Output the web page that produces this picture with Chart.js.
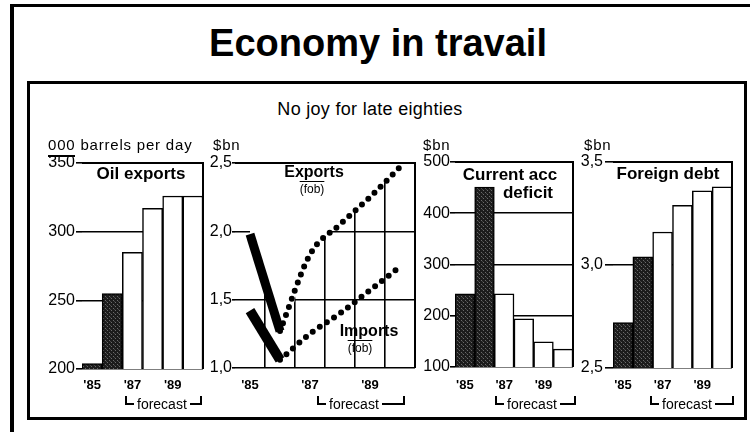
<!DOCTYPE html>
<html>
<head>
<meta charset="utf-8">
<script src="https://cdn.jsdelivr.net/npm/chart.js@4.4.1/dist/chart.umd.min.js"></script>
<style>
  html, body { margin: 0; padding: 0; background: #fff; }
  body { width: 750px; height: 432px; position: relative; overflow: hidden;
         font-family: "Liberation Sans", Arial, Helvetica, sans-serif; color: #000; }
  .abs { position: absolute; }
  .line { position: absolute; background: #000; }
  canvas { position: absolute; }
  .txt { position: absolute; white-space: nowrap; z-index: 5; }
  .ctr { transform: translate(-50%, -50%); }
  .b { font-weight: bold; }
  .unit { font-size: 15px; line-height: 15px; letter-spacing: 0.8px; }
  .pt { font-size: 17px; line-height: 17px; font-weight: bold; }
  .fob { font-size: 12px; line-height: 12px; text-decoration: overline; }
  .fc { position: absolute; top: 396px; height: 15px; display: flex; align-items: flex-start; z-index: 5; }
  .fc .l { width: 7px; height: 7px; border-left: 2px solid #000; border-bottom: 2px solid #000; }
  .fc .r { flex: 1; height: 7px; border-right: 2px solid #000; border-bottom: 2px solid #000; }
  .fc .t { font-size: 14px; line-height: 14px; padding: 0 3px; margin-top: 1px; }
</style>
</head>
<body>
  <!-- outer frame -->
  <div class="line" style="left:10px;top:4px;width:740px;height:3px"></div>
  <div class="line" style="left:10px;top:4px;width:4px;height:428px"></div>
  <!-- inner frame -->
  <div class="abs" style="left:27px;top:81px;width:720px;height:339px;border:3px solid #000;box-sizing:border-box"></div>

  <div class="txt ctr b" style="left:378px;top:43px;font-size:38px;line-height:38px">Economy in travail</div>
  <div class="txt ctr" style="left:370px;top:109px;font-size:18px;line-height:18px;letter-spacing:0.3px">No joy for late eighties</div>

  <div class="txt unit" style="left:48px;top:137px">000 barrels per day</div>
  <div class="line" style="left:48px;top:155px;width:27px;height:1.5px"></div>
  <div class="txt unit" style="left:213px;top:137px">$bn</div>
  <div class="txt unit" style="left:423px;top:137px">$bn</div>
  <div class="txt unit" style="left:584px;top:137px">$bn</div>

  <div class="txt ctr pt" style="left:141px;top:173px">Oil exports</div>
  <div class="txt ctr b" style="left:314px;top:172px;font-size:16px;line-height:16px">Exports</div>
  <div class="txt ctr fob" style="left:312px;top:189px">(fob)</div>
  <div class="txt ctr b" style="left:369px;top:331px;font-size:16px;line-height:16px">Imports</div>
  <div class="txt ctr fob" style="left:360px;top:348px">(fob)</div>
  <div class="txt ctr pt" style="left:510px;top:174px">Current acc</div>
  <div class="txt ctr pt" style="left:528px;top:192px">deficit</div>
  <div class="txt ctr pt" style="left:668px;top:173px">Foreign debt</div>

  <div class="fc" style="left:125px;width:77px"><span class="l"></span><span class="t">forecast</span><span class="r"></span></div>
  <div class="fc" style="left:317px;width:88px"><span class="l"></span><span class="t">forecast</span><span class="r"></span></div>
  <div class="fc" style="left:495px;width:81px"><span class="l"></span><span class="t">forecast</span><span class="r"></span></div>
  <div class="fc" style="left:650px;width:84px"><span class="l"></span><span class="t">forecast</span><span class="r"></span></div>

  <canvas id="c1"></canvas>
  <canvas id="c2"></canvas>
  <canvas id="c3"></canvas>
  <canvas id="c4"></canvas>

<script>
// ---------------- data ----------------
const years = ["'85", "'86", "'87", "'88", "'89", "'90"];
const yearTickLabels = ["'85", "", "'87", "", "'89", ""];
const isForecast = [false, false, true, true, true, true];

const oilExports = [204, 255, 285, 317, 326, 326];
const oilTicks = ["200", "250", "300", "350"];

const exportsActual   = [1.98, 1.27, null, null, null, null];
const exportsForecast = [null, 1.27, 1.83, 2.05, 2.25, 2.47];
const importsActual   = [1.42, 1.06, null, null, null, null];
const importsForecast = [null, 1.06, 1.25, 1.40, 1.57, 1.74];
const tradeTicks = ["1,0", "1,5", "2,0", "2,5"];

const currentAccDeficit = [243, 451, 243, 194, 149, 135];
const deficitTicks = ["100", "200", "300", "400", "500"];

const foreignDebt = [2.72, 3.04, 3.16, 3.29, 3.36, 3.38];
const debtTicks = ["2,5", "3,0", "3,5"];

// ---------------- styling helpers ----------------
const FONT = '"Liberation Sans", Arial, Helvetica, sans-serif';
Chart.defaults.font.family = FONT;
Chart.defaults.color = '#000';
Chart.defaults.animation = false;

function darkPattern() {
  const p = document.createElement('canvas');
  p.width = 4; p.height = 4;
  const g = p.getContext('2d');
  g.fillStyle = '#1c1c1c'; g.fillRect(0, 0, 4, 4);
  g.fillStyle = '#6a6a6a'; g.fillRect(1, 0, 1, 1); g.fillRect(3, 2, 1, 1);
  g.fillStyle = '#444'; g.fillRect(0, 3, 1, 1);
  return g.createPattern(p, 'repeat');
}
const DARK = darkPattern();

const framePlugin = {
  id: 'frame',
  afterDatasetsDraw(chart, args, opts) {
    const { ctx, chartArea: a } = chart;
    ctx.save();
    ctx.strokeStyle = '#000';
    ctx.lineWidth = opts.width || 2;
    ctx.beginPath();
    if (opts.top) { ctx.moveTo(a.left, a.top); ctx.lineTo(a.right + 1, a.top); }
    if (opts.right) { ctx.moveTo(a.right, a.top); ctx.lineTo(a.right, a.bottom); }
    ctx.stroke();
    ctx.restore();
  }
};

function setupCanvas(id, box) {
  const c = document.getElementById(id);
  c.width = box.right - box.left;
  c.height = box.bottom - box.top;
  c.style.left = box.left + 'px';
  c.style.top = box.top + 'px';
  c.style.width = c.width + 'px';
  c.style.height = c.height + 'px';
  return c;
}

function baseOptions(box, area, y, xPad, frame) {
  return {
    responsive: false,
    devicePixelRatio: 1,
    animation: false,
    layout: { padding: { top: area.top - box.top, right: box.right - area.right, left: 0, bottom: 0 } },
    plugins: { legend: { display: false }, tooltip: { enabled: false }, frame },
    scales: {
      x: {
        type: 'category',
        offset: true,
        grid: { display: false, drawTicks: false },
        border: { display: false },
        ticks: {
          autoSkip: false, maxRotation: 0, minRotation: 0, padding: xPad,
          font: { family: FONT, size: 13, weight: 'bold' },
          callback: (v, i) => yearTickLabels[i]
        },
        afterFit: s => { s.height = box.bottom - area.bottom; }
      },
      y: Object.assign({
        afterFit: s => { s.width = area.left - box.left; }
      }, y)
    }
  };
}

function yScale(min, max, step, labels, tickLen, pad) {
  return {
    min, max,
    ticks: {
      stepSize: step, autoSkip: false, padding: pad,
      font: { family: FONT, size: 16 },
      callback: (v, i) => labels[i]
    },
    grid: { color: '#000', lineWidth: 1.6, tickLength: tickLen, drawTicks: true },
    border: { display: false }
  };
}

function barColors() { return isForecast.map(f => f ? '#fff' : DARK); }

function barChart(id, box, area, values, y, xPad) {
  const c = setupCanvas(id, box);
  return new Chart(c, {
    type: 'bar',
    data: {
      labels: years,
      datasets: [{
        data: values,
        backgroundColor: barColors(),
        borderColor: '#000',
        borderWidth: 1.5,
        borderSkipped: false,
        barPercentage: 1,
        categoryPercentage: 1
      }]
    },
    options: baseOptions(box, area, y, xPad, { top: true, right: true, width: 2 }),
    plugins: [framePlugin]
  });
}

// ---------------- panel 1: oil exports ----------------
barChart('c1',
  { left: 30, top: 150, right: 215, bottom: 405 },
  { left: 82, top: 163, right: 203, bottom: 369 },
  oilExports, yScale(200, 350, 50, oilTicks, 6, 1), 9);

// ---------------- panel 2: exports / imports ----------------
(function () {
  const box = { left: 206, top: 150, right: 425, bottom: 405 };
  const area = { left: 235, top: 163, right: 415, bottom: 368 };
  const c = setupCanvas('c2', box);
  const exportsAll = years.map((_, i) => exportsActual[i] !== null ? exportsActual[i] : exportsForecast[i]);
  const opts = baseOptions(box, area, yScale(1.0, 2.5, 0.5, tradeTicks, 3, 0), 10, { top: true, right: true, width: 2 });
  opts.scales.x.grid = {
    display: true, drawTicks: false, offset: true, lineWidth: 1.6,
    color: ctx => (ctx.index === 0 ? 'rgba(0,0,0,0)' : '#000')
  };
  new Chart(c, {
    type: 'line',
    data: {
      labels: years,
      datasets: [
        { // white mask above the exports curve (grid only shows beneath it)
          data: exportsAll, fill: 'end', backgroundColor: '#fff',
          borderWidth: 0, pointRadius: 0, cubicInterpolationMode: 'monotone', order: 10
        },
        {
          data: exportsActual, borderColor: '#000', borderWidth: 9,
          borderCapStyle: 'butt', pointRadius: 0, tension: 0, fill: false, order: 1
        },
        {
          data: importsActual, borderColor: '#000', borderWidth: 10,
          borderCapStyle: 'butt', pointRadius: 0, tension: 0, fill: false, order: 1
        },
        {
          data: exportsForecast, borderColor: '#000', borderWidth: 6,
          borderDash: [0, 8.6], borderCapStyle: 'round', pointRadius: 0,
          cubicInterpolationMode: 'monotone', fill: false, order: 1
        },
        {
          data: importsForecast, borderColor: '#000', borderWidth: 6,
          borderDash: [0, 8.6], borderCapStyle: 'round', pointRadius: 0,
          cubicInterpolationMode: 'monotone', fill: false, order: 1
        }
      ]
    },
    options: opts,
    plugins: [framePlugin]
  });
})();

// ---------------- panel 3: current account deficit ----------------
barChart('c3',
  { left: 418, top: 150, right: 583, bottom: 405 },
  { left: 455, top: 162, right: 573, bottom: 367 },
  currentAccDeficit, yScale(100, 500, 100, deficitTicks, 5, 0), 11);

// ---------------- panel 4: foreign debt ----------------
barChart('c4',
  { left: 576, top: 150, right: 745, bottom: 405 },
  { left: 613, top: 162, right: 732, bottom: 368 },
  foreignDebt, yScale(2.5, 3.5, 0.5, debtTicks, 8, 2), 10);
</script>
</body>
</html>
